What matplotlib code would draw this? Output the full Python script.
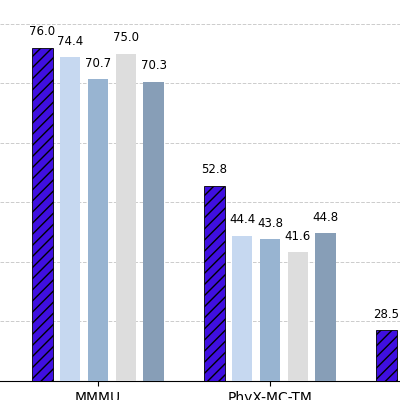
import matplotlib
matplotlib.use("Agg")
import matplotlib.pyplot as plt
import numpy as np

categories = ["MMMU", "PhyX-MC-TM", "PhyX-OE"]
series_names = ["Ours", "M1", "M2", "M3", "M4"]
values = [
    [76.0, 52.8, 28.5],
    [74.4, 44.4, 24.0],
    [70.7, 43.8, 23.0],
    [75.0, 41.6, 22.0],
    [70.3, 44.8, 23.5],
]
colors = ["#3f0fe0", "#c6d8f0", "#98b4d1", "#dddddd", "#879eb7"]

fig = plt.figure(figsize=(4, 4), dpi=100)
ax = fig.add_axes([0, 19/400, 1, 381/400])
x = np.arange(len(categories))
w = 0.162
xmin, xmax = -0.57, 1.756
for i, (name, vals) in enumerate(zip(series_names, values)):
    pos = x + (i - 2) * w
    bars = ax.bar(pos, vals, width=w * 0.74, color=colors[i],
                  hatch="///" if i == 0 else None, edgecolor="black" if i == 0 else colors[i],
                  linewidth=0.6 if i == 0 else 0, zorder=3)
    for b, v in zip(bars, vals):
        cx = b.get_x() + b.get_width() / 2
        if cx + 0.05 > xmax:
            continue
        ax.text(cx, v + 1.6, f"{v:.1f}", ha="center", va="bottom", fontsize=8.5)
ax.set_xlim(xmin, xmax)
ax.set_ylim(20, 84)
ax.set_yticks([30, 40, 50, 60, 70, 80])
ax.grid(axis="y", linestyle="--", color="#cccccc", linewidth=0.7, zorder=0)
ax.tick_params(axis="y", left=False, labelleft=False)
ax.set_xticks(x[:2])
ax.set_xticklabels(categories[:2], fontsize=10)
for s in ["left", "right", "top"]:
    ax.spines[s].set_visible(False)
fig.savefig("out.png", dpi=100)
